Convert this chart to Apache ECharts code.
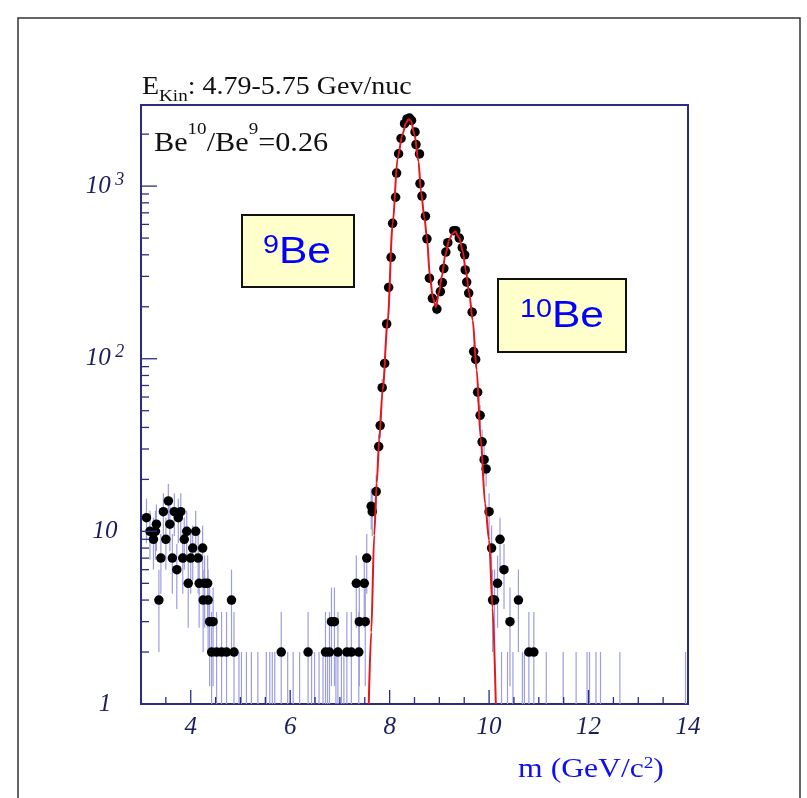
<!DOCTYPE html>
<html><head><meta charset="utf-8">
<script src="https://cdn.jsdelivr.net/npm/echarts@6/dist/echarts.min.js"></script>
<style>html,body{margin:0;padding:0;background:#fff}#c{width:807px;height:798px}</style>
</head><body><div id="c"></div>
<script>
// ---- data ----
const dotMass = [3.11,3.18,3.25,3.29,3.31,3.36,3.40,3.45,3.50,3.55,3.58,3.63,3.67,3.72,3.75,3.80,3.84,3.87,3.92,3.95,4.00,4.04,4.10,4.15,4.17,4.24,4.25,4.28,4.34,4.35,4.38,4.42,4.45,4.52,4.62,4.72,4.82,4.87,
  5.82,6.36,6.71,6.79,6.83,6.89,6.96,7.14,7.23,7.33,7.38,7.39,7.49,7.51,7.54,7.63,7.65,7.73,
  7.78,7.81,7.85,7.90,7.94,7.98,8.03,8.06,8.12,8.14,8.18,8.23,8.30,8.35,8.40,8.44,8.51,8.53,8.60,8.61,8.65,8.72,8.75,8.80,8.86,8.95,
  9.02,9.06,9.09,9.13,9.17,9.29,9.33,9.40,9.46,9.51,9.52,9.55,9.59,9.66,9.69,9.73,9.77,9.82,9.86,9.90,9.94,10.00,
  10.05,10.07,10.11,10.17,10.22,10.30,10.42,10.59,10.80,10.90];
const dotCounts = [12,10,9,10,11,4,7,13,9,15,11,7,13,6,12,13,7,9,10,5,7,8,10,7,5,8,4,5,5,4,3,2,3,2,2,2,4,2,
  2,2,2,2,3,3,2,2,2,5,2,3,5,3,7,14,13,17,
  31,41,68,94,159,259,387,609,862,1190,1540,1890,2300,2450,2480,2400,2060,1740,1537,1034,875,670,495,293,224,194,
  245,276,333,415,470,552,552,500,440,400,327,278,240,186,110,99,64,47,33,26,23,13,
  8,4,4,5,9,6,3,4,2,2];
// bins holding a single entry (only their error bar is visible)
const singleBins = [4.97,5.02,5.12,5.22,5.35,5.52,5.59,5.64,5.69,5.95,6.06,6.19,6.43,6.49,6.58,6.66,6.75,6.92,7.03,7.08,
  10.25,10.37,10.48,10.67,10.71,11.15,11.49,11.75,11.97,12.02,12.15,12.24,12.63,13.95];
// fitted double-peak curve (red)
const fitMass = [7.58,7.63,7.69,7.74,7.79,7.86,7.96,8.06,8.16,8.26,8.33,8.38,8.43,8.50,8.58,8.63,8.70,8.75,8.81,8.87,8.93,8.99,9.05,9.12,9.20,9.26,9.32,9.40,9.47,9.53,9.60,9.67,9.75,9.83,9.92,10.00,10.07,10.135];
const fitValues = [1.0,2.6,9.5,19,34,66,165,600,1450,2000,2330,2440,2380,1990,1390,934,654,500,300,225,199,240,300,400,490,530,545,500,420,327,240,167,86,35,14.5,8.9,3.6,1.0];
// axis ticks
const xMajorTicks = [4,6,8,10,12,14];
const xMinorTicks = [3.5,4.5,5,5.5,6.5,7,7.5,8.5,9,9.5,10.5,11,11.5,12.5,13,13.5];
const yMajorTicks = [1,10,100,1000];
const yMinorTicks = [2,3,4,5,6,7,8,9,20,30,40,50,60,70,80,90,200,300,400,500,600,700,800,900,2000];
const xLabels = [4,6,8,10,12,14];

// ---- build ----
const NAVY = '#2b2b85';
const LBL = '#1c1c5e';
const errData = dotMass.map((x,i)=>{const n=dotCounts[i],s=Math.sqrt(n);return [x,Math.max(n-s,1),n+s];})
  .concat(singleBins.map(x=>[x,1,2]));
const tickData = xMajorTicks.map(v=>[v,1,0]).concat(xMinorTicks.map(v=>[v,1,1]),
  yMajorTicks.map(v=>[3,v,2]), yMinorTicks.map(v=>[3,v,3]));

const chart = echarts.init(document.getElementById('c'));
const serif = 'Liberation Serif';
chart.setOption({
  backgroundColor:'#fff',
  animation:false,
  grid:{left:141,top:105,right:119,bottom:94,show:true,borderColor:NAVY,borderWidth:2,backgroundColor:'transparent'},
  xAxis:{type:'value',min:3,max:14,interval:1,
    axisLine:{lineStyle:{color:NAVY,width:2}},axisTick:{show:false},splitLine:{show:false},
    axisLabel:{margin:11,fontFamily:serif,fontStyle:'italic',fontSize:25,color:LBL,
      formatter:v=>xLabels.indexOf(v)>=0?String(v):''}},
  yAxis:{type:'log',logBase:10,min:1,max:2950,
    axisLine:{lineStyle:{color:NAVY,width:2}},axisTick:{show:false},splitLine:{show:false},minorTick:{show:false},
    axisLabel:{margin:36,align:'center',
      formatter:v=>{const l=Math.log10(v),e=Math.round(l);if(Math.abs(l-e)>1e-6||yMajorTicks.indexOf(Math.pow(10,e))<0)return '';
        if(e===0)return '{b|1}';if(e===1)return '{b|10}';return '{b|10}{s| '+e+'}';},
      rich:{b:{fontFamily:serif,fontStyle:'italic',fontSize:25,color:LBL,lineHeight:30},
            s:{fontFamily:serif,fontStyle:'italic',fontSize:18,color:LBL,lineHeight:17,verticalAlign:'top'}}}},
  series:[
    {type:'custom',data:errData,clip:true,z:2,encode:{x:0,y:[1,2]},
     renderItem:(p,api)=>{const a=api.coord([api.value(0),api.value(1)]),b=api.coord([api.value(0),api.value(2)]);
       return {type:'line',shape:{x1:a[0],y1:a[1],x2:b[0],y2:b[1]},style:{stroke:'#9d9de2',lineWidth:1.2}};}},
    {type:'scatter',data:dotMass.map((x,i)=>[x,dotCounts[i]]),symbol:'circle',symbolSize:9.5,
     itemStyle:{color:'#000',opacity:1,borderWidth:0},z:3},
    {type:'line',data:fitMass.map((x,i)=>[x,fitValues[i]]),smooth:0.3,smoothMonotone:'x',showSymbol:false,
     lineStyle:{color:'#e3171d',width:2},z:4},
    {type:'custom',data:tickData,z:5,clip:false,
     renderItem:(p,api)=>{const k=api.value(2),c=api.coord([api.value(0),api.value(1)]),len=[14,7,16,8][k];
       const shape=k<2?{x1:c[0],y1:c[1],x2:c[0],y2:c[1]-len}:{x1:c[0],y1:c[1],x2:c[0]+len,y2:c[1]};
       return {type:'line',shape:shape,style:{stroke:NAVY,lineWidth:1.3}};}}
  ],
  graphic:[
    {type:'rect',shape:{x:18,y:18,width:782,height:800},style:{fill:'none',stroke:'#333',lineWidth:1.5},silent:true},
    {type:'text',x:142,y:87,scaleX:1.12,style:{text:'{a|E}{k|Kin}{a|: 4.79-5.75 Gev/nuc}',align:'left',verticalAlign:'middle',
      rich:{a:{fontFamily:serif,fontSize:25,lineHeight:37,fill:'#111'},k:{fontFamily:serif,fontSize:17,lineHeight:12,verticalAlign:'bottom',fill:'#111'}}}},
    {type:'text',x:154,y:144,scaleX:1.12,style:{text:'{a|Be}{s|10}{a|/Be}{s|9}{a|=0.26}',align:'left',verticalAlign:'middle',
      rich:{a:{fontFamily:serif,fontSize:27,lineHeight:46,fill:'#111'},s:{fontFamily:serif,fontSize:17,lineHeight:12,verticalAlign:'top',fill:'#111'}}}},
    {type:'rect',shape:{x:242,y:215,width:112,height:72},style:{fill:'#ffffcc',stroke:'#111',lineWidth:2}},
    {type:'text',x:297,y:253,scaleX:1.15,style:{text:'{s|9}{a|Be}',align:'center',verticalAlign:'middle',
      rich:{a:{fontFamily:'Liberation Sans',fontSize:37,lineHeight:38,fill:'#0000ff'},s:{fontFamily:'Liberation Sans',fontSize:25,lineHeight:20,verticalAlign:'top',fill:'#0000ff'}}}},
    {type:'rect',shape:{x:498,y:279,width:128,height:73},style:{fill:'#ffffcc',stroke:'#111',lineWidth:2}},
    {type:'text',x:562,y:317,scaleX:1.15,style:{text:'{s|10}{a|Be}',align:'center',verticalAlign:'middle',
      rich:{a:{fontFamily:'Liberation Sans',fontSize:37,lineHeight:38,fill:'#0000ff'},s:{fontFamily:'Liberation Sans',fontSize:25,lineHeight:20,verticalAlign:'top',fill:'#0000ff'}}}},
    {type:'text',x:591,y:770,scaleX:1.13,style:{text:'{a|m (GeV/c}{s|2}{a|)}',align:'center',verticalAlign:'middle',
      rich:{a:{fontFamily:serif,fontSize:28,lineHeight:30,fill:'#1010ee'},s:{fontFamily:serif,fontSize:17,lineHeight:18,verticalAlign:'top',fill:'#1010ee'}}}}
  ]
});
</script></body></html>
